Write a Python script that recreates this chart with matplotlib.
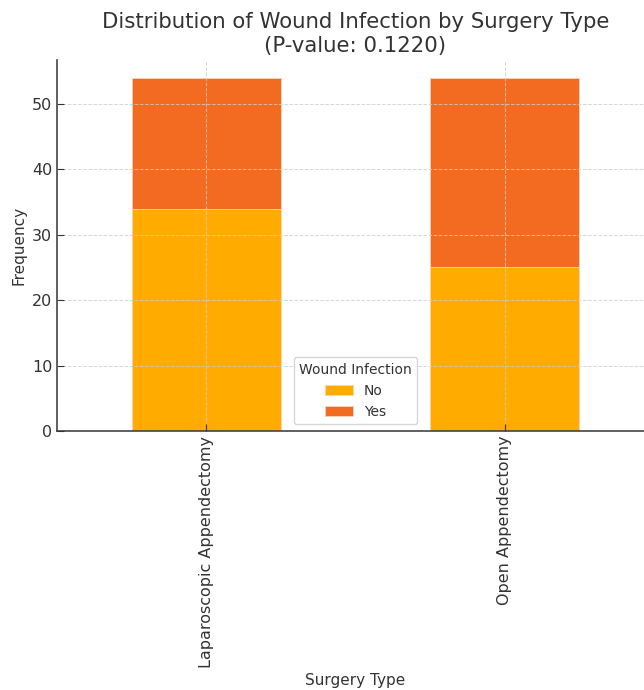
import numpy as np
import pandas as pd
import matplotlib
matplotlib.use("Agg")
import matplotlib.pyplot as plt

# data
surgery_types = ["Laparoscopic Appendectomy", "Open Appendectomy"]
infection_no = [34, 25]
infection_yes = [20, 29]
p_value = 0.1220

df = pd.DataFrame({"No": infection_no, "Yes": infection_yes}, index=surgery_types)

fig = plt.figure(figsize=(6.44, 6.9), dpi=100)
# axes runs a little past the right edge like the cropped original
ax = fig.add_axes([57 / 644, 1 - 431 / 690, 597 / 644, 371 / 690])

df.plot(kind="bar", stacked=True, ax=ax, width=0.5,
        color=["#FFAB00", "#F26B21"], edgecolor="#FBD2B8", linewidth=0.6)

ax.set_ylim(0, 56.7)
ax.set_xlim(-0.5, 1.5)
ax.set_axisbelow(False)
ax.grid(True, linestyle="--", color="#CCCCCC", linewidth=0.7, alpha=0.8)

for side in ["top", "right"]:
    ax.spines[side].set_visible(False)
for side in ["left", "bottom"]:
    ax.spines[side].set_color("#444444")
    ax.spines[side].set_linewidth(1.2)

ax.tick_params(direction="in", colors="#333333", labelsize=11.5, length=5)
ax.set_xticklabels(surgery_types, rotation=90)

ax.set_title(f"Distribution of Wound Infection by Surgery Type\n(P-value: {p_value:.4f})",
             fontsize=15.3, color="#333333", pad=6)
ax.set_xlabel("Surgery Type", fontsize=11, color="#333333", va="center")
ax.xaxis.set_label_coords(0.5, -(680 - 431) / 371)
ax.set_ylabel("Frequency", fontsize=11, color="#333333")

leg = ax.legend(title="Wound Infection", loc="lower center", bbox_to_anchor=(0.5, 0.0),
                fontsize=10, title_fontsize=10, frameon=True)
leg.get_frame().set_edgecolor("#CCCCCC")
for t in leg.get_texts():
    t.set_color("#333333")
leg.get_title().set_color("#333333")

fig.savefig("out.png", dpi=100)
